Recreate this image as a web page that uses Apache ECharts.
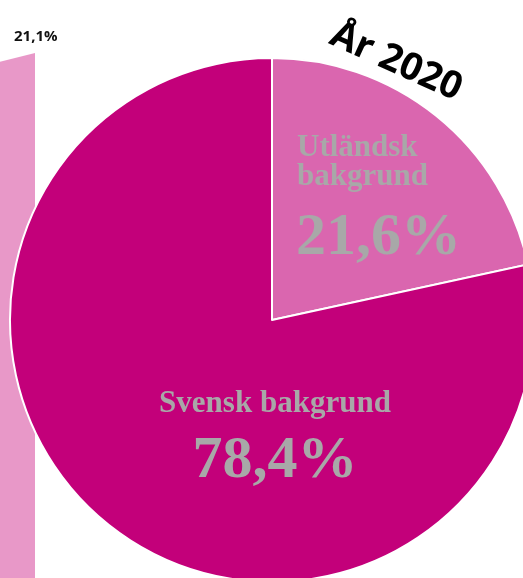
<!DOCTYPE html>
<html>
<head>
<meta charset="utf-8">
<script src="https://cdn.jsdelivr.net/npm/echarts@6/dist/echarts.min.js"></script>
<style>html,body{margin:0;padding:0;background:#fff}#c{width:523px;height:578px}</style>
</head>
<body>
<div id="c"></div>
<script>
var categories = ['Utländsk bakgrund', 'Svensk bakgrund'];
var values2020 = [21.6, 78.4];
var prevForeign = [21.1];
var yearLabel = 'År 2020';

function fmt(v){ return String(v).replace('.', ',') + '%'; }

var chart = echarts.init(document.getElementById('c'), null, {renderer:'canvas'});
var serif = '"Liberation Serif", "DejaVu Serif", serif';
var grey = '#a8a8a8';
chart.setOption({
  animation: false,
  backgroundColor: '#ffffff',
  series: [
    {
      type: 'pie', silent: true, center: [35, 53], radius: 1000,
      startAngle: 270, clockwise: true, label: {show:false}, labelLine:{show:false},
      data: [
        {value: prevForeign[0], itemStyle:{color:'#e898c8'}},
        {value: 100 - prevForeign[0], itemStyle:{color:'rgba(0,0,0,0)'}}
      ]
    },
    {
      type: 'pie', silent: true, center: [272, 320], radius: 262,
      startAngle: 90, clockwise: true, label: {show:false}, labelLine:{show:false},
      itemStyle: {borderColor:'#ffffff', borderWidth:2},
      data: [
        {name: categories[0], value: values2020[0], itemStyle:{color:'#da66af'}},
        {name: categories[1], value: values2020[1], itemStyle:{color:'#c3007a'}}
      ]
    }
  ],
  graphic: [
    {type:'text', z: 100, left: 14, top: 29, style:{text: fmt(prevForeign[0]), font:'700 15px "Open Sans", sans-serif', fill:'#111'}},
    {type:'text', z: 100, x: 396, y: 62, rotation: -24.4*Math.PI/180,
      style:{text: yearLabel, font:'700 38px "Open Sans", sans-serif', fill:'#000', align:'center', verticalAlign:'middle'}},
    {type:'text', z: 100, x: 297, y: 133, style:{text: 'Utländsk\nbakgrund', font:'bold 31px ' + serif, fill: grey, lineHeight: 29, verticalAlign:'top'}},
    {type:'text', z: 100, x: 296, y: 208, style:{text: fmt(values2020[0]), font:'bold 60px ' + serif, fill: grey, verticalAlign:'top'}},
    {type:'text', z: 100, x: 275, y: 388, style:{text: categories[1], font:'bold 31px ' + serif, fill: grey, align:'center', verticalAlign:'top'}},
    {type:'text', z: 100, x: 275, y: 431, style:{text: fmt(values2020[1]), font:'bold 60px ' + serif, fill: grey, align:'center', verticalAlign:'top'}}
  ]
});
</script>
</body>
</html>
